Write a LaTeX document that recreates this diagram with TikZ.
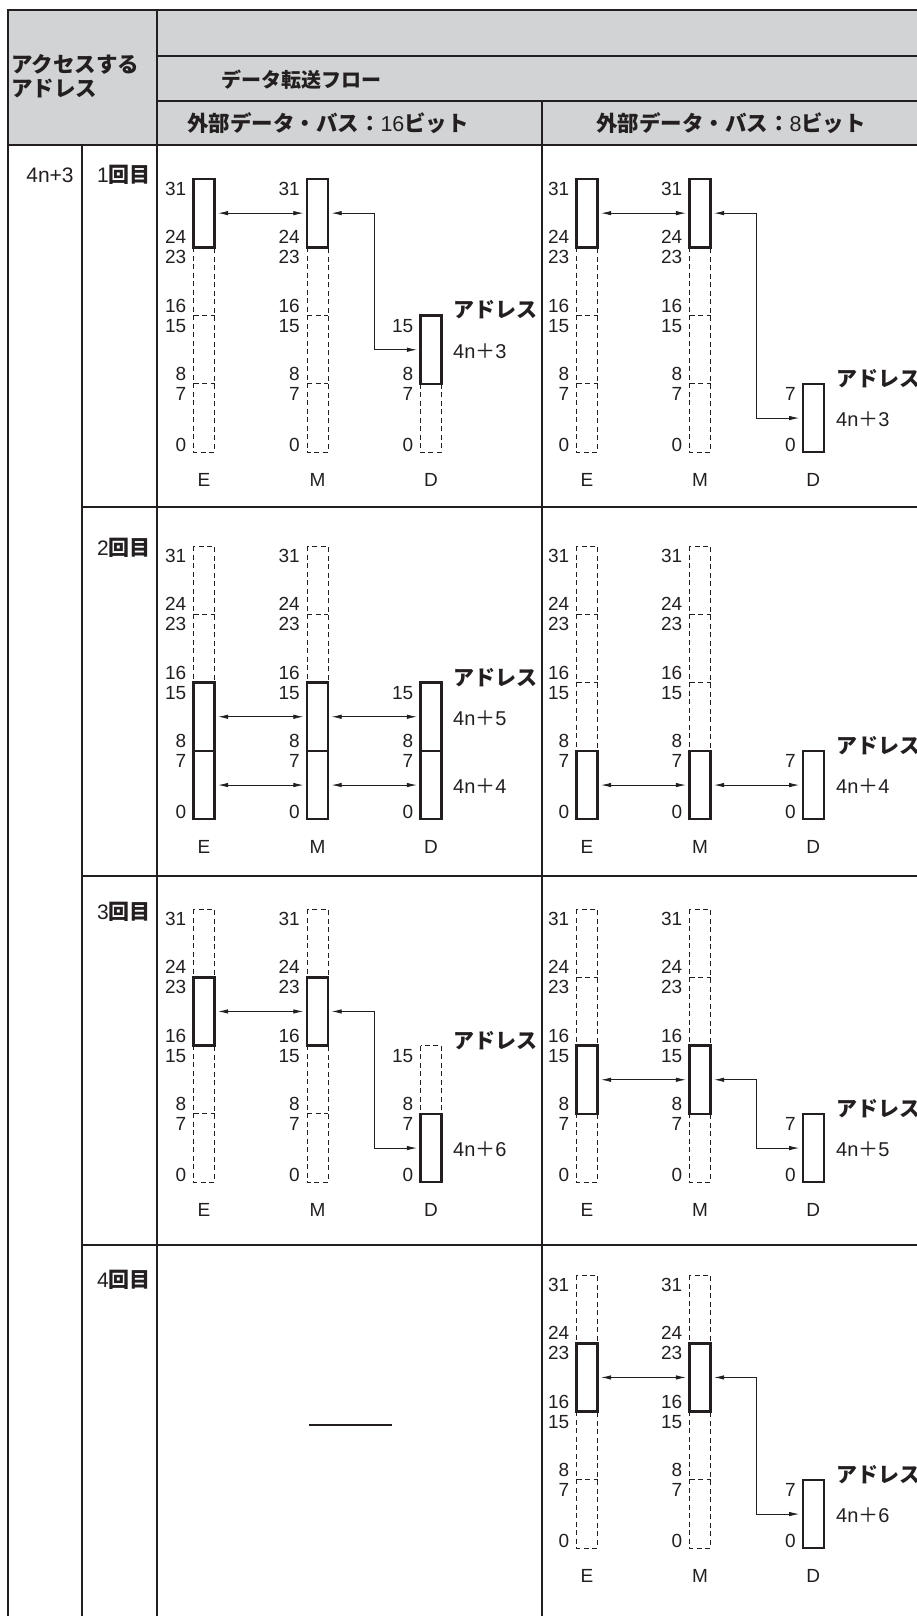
\documentclass[tikz,border=0pt]{standalone}
\usepackage{fontspec}
\setmainfont{Liberation Sans}
\newfontfamily\jp{Noto Sans CJK JP}
\usetikzlibrary{arrows.meta}
\definecolor{hdrgray}{RGB}{209,211,212}
\definecolor{ink}{RGB}{35,31,32}

\begin{document}
\begin{tikzpicture}[x=1pt, y=-1pt, ink,
    frame/.style={line width=2.5pt},
    rule/.style={line width=1.2pt},
    dashreg/.style={line width=0.9pt, dash pattern=on 5pt off 3.5pt},
    byte/.style={draw, line width=2.4pt, fill=white, minimum width=21pt, minimum height=68.3pt, inner sep=0pt},
    link/.style={{Latex[length=10pt,width=4.5pt]}-{Latex[length=10pt,width=4.5pt]}, line width=0.8pt, shorten <=2.5pt, shorten >=2.5pt},
    bitno/.style={font=\fontsize{19}{19}\selectfont, inner sep=0pt, anchor=east},
    unit/.style={font=\fontsize{19}{19}\selectfont, inner sep=0pt},
    addr/.style={font={\jp\bfseries\fontsize{21}{21}\selectfont}, inner sep=0pt, anchor=west},
    addrval/.style={font=\fontsize{20}{20}\selectfont, inner sep=0pt, anchor=west},
    hdr/.style={font={\jp\bfseries\fontsize{21.5}{24}\selectfont}, inner sep=0pt},
    pass/.style={font=\fontsize{21}{21}\selectfont, inner sep=0pt, anchor=west}]
    \useasboundingbox (0,0) rectangle (917,1616);
    \clip (0,0) rectangle (917,1616);

    % Table frame and header
    \fill[hdrgray] (8,10) rectangle (917,145);
    \draw[rule] (157,56) -- (917,56);
    \draw[rule] (157,101) -- (917,101);
    \draw[rule] (8,145) -- (917,145);
    \draw[rule] (82,145) -- (82,1616);
    \draw[rule] (157,10) -- (157,1616);
    \draw[rule] (542,101) -- (542,1616);
    \foreach \ly in {507,876,1245} \draw[rule] (82,\ly) -- (917,\ly);
    \draw[frame] (8,1616) -- (8,10) -- (917,10);
    \node[hdr, anchor=west, align=left] (acc) at (11,76) {アクセスする\\アドレス};
    \node[hdr, anchor=west, font={\jp\bfseries\fontsize{20}{20}\selectfont}] (flow) at (221,80) {データ転送フロー};
    \node[hdr] (bus16) at (328,123) {外部データ・バス：{\normalfont 16}ビット};
    \node[hdr] (bus8) at (731,123) {外部データ・バス：{\normalfont 8}ビット};

    % Row labels
    \node[pass, anchor=center] (start) at (50,175) {4n+3};
    \foreach \ly/\num [count=\ri] in {175/1, 548/2, 912/3, 1280/4}
        \node[pass] (pass\ri) at (97,\ly) {\num{\jp\bfseries 回目}};

    % 32-bit registers E and M (dashed outline, bit numbers)
    \foreach \px/\ty [count=\ri] in {204/179, 317.5/179, 587/179, 700/179, 204/546, 317.5/546, 587/546, 700/546,
                                     204/909, 317.5/909, 587/909, 700/909, 587/1275, 700/1275} {
        \draw[dashreg] (\px-10.5,\ty) rectangle (\px+10.5,\ty+273.2);
        \foreach \kk in {1,2,3} \draw[dashreg] (\px-10.5,\ty+68.3*\kk) -- (\px+10.5,\ty+68.3*\kk);
        \foreach \v/\dy in {31/10, 24/58.3, 23/78.3, 16/126.6, 15/146.6, 8/194.9, 7/214.9, 0/266.2}
            \node[bitno] (r\ri-\v) at (\px-17.5,\ty+\dy) {\v};
    }
    % D side, 16-bit bus
    \foreach \ty [count=\ri] in {179,546,909} {
        \draw[dashreg] (420.5,\ty+136.6) rectangle (441.5,\ty+273.2);
        \draw[dashreg] (420.5,\ty+204.9) -- (441.5,\ty+204.9);
        \foreach \v/\dy in {15/146.6, 8/194.9, 7/214.9, 0/266.2}
            \node[bitno] (dw\ri-\v) at (413.5,\ty+\dy) {\v};
    }
    % D side, 8-bit bus
    \foreach \ty [count=\ri] in {179,546,909,1275}
        \foreach \v/\dy in {7/214.9, 0/266.2}
            \node[bitno] (db\ri-\v) at (795.8,\ty+\dy) {\v};
    % E / M / D names
    \foreach \ty [count=\rj] in {179,546,909}
        \foreach \px/\nm [count=\ri] in {204/E, 317.5/M, 431/D, 587/E, 700/M, 813.3/D}
            \node[unit] (u\rj-\ri) at (\px,\ty+301) {\nm};
    \foreach \px/\nm [count=\ri] in {587/E, 700/M, 813.3/D}
        \node[unit] (u4-\ri) at (\px,1576) {\nm};

    \coordinate (k16) at (374,0);
    \coordinate (k8) at (756.7,0);

    % 1st transfer
    \node[byte] (e1) at (204,213.15) {};
    \node[byte] (m1) at (317.5,213.15) {};
    \node[byte] (d1) at (431,349.75) {};
    \draw[link] (e1) -- (m1);
    \draw[link] (m1) -- (m1 -| k16) |- (d1);
    \node[addr] (a1) at (453,310) {アドレス};
    \node[addrval] (v1) at (453,351) {4n{\jp ＋}3};
    \node[byte] (e1b) at (587,213.15) {};
    \node[byte] (m1b) at (700,213.15) {};
    \node[byte] (d1b) at (813.3,418.05) {};
    \draw[link] (e1b) -- (m1b);
    \draw[link] (m1b) -- (m1b -| k8) |- (d1b);
    \node[addr] (a1b) at (836,379) {アドレス};
    \node[addrval] (v1b) at (836,419) {4n{\jp ＋}3};

    % 2nd transfer
    \node[byte] (e2h) at (204,716.75) {};
    \node[byte] (e2l) at (204,785.05) {};
    \node[byte] (m2h) at (317.5,716.75) {};
    \node[byte] (m2l) at (317.5,785.05) {};
    \node[byte] (d2h) at (431,716.75) {};
    \node[byte] (d2l) at (431,785.05) {};
    \draw[link] (e2h) -- (m2h);
    \draw[link] (m2h) -- (d2h);
    \draw[link] (e2l) -- (m2l);
    \draw[link] (m2l) -- (d2l);
    \node[addr] (a2) at (453,677.6) {アドレス};
    \node[addrval] (v2h) at (453,718) {4n{\jp ＋}5};
    \node[addrval] (v2l) at (453,786) {4n{\jp ＋}4};
    \node[byte] (e2b) at (587,785.05) {};
    \node[byte] (m2b) at (700,785.05) {};
    \node[byte] (d2b) at (813.3,785.05) {};
    \draw[link] (e2b) -- (m2b);
    \draw[link] (m2b) -- (d2b);
    \node[addr] (a2b) at (836,745.9) {アドレス};
    \node[addrval] (v2b) at (836,786) {4n{\jp ＋}4};

    % 3rd transfer
    \node[byte] (e3) at (204,1011.45) {};
    \node[byte] (m3) at (317.5,1011.45) {};
    \node[byte] (d3) at (431,1148.05) {};
    \draw[link] (e3) -- (m3);
    \draw[link] (m3) -- (m3 -| k16) |- (d3);
    \node[addr] (a3) at (453,1040.6) {アドレス};
    \node[addrval] (v3) at (453,1149) {4n{\jp ＋}6};
    \node[byte] (e3b) at (587,1079.75) {};
    \node[byte] (m3b) at (700,1079.75) {};
    \node[byte] (d3b) at (813.3,1148.05) {};
    \draw[link] (e3b) -- (m3b);
    \draw[link] (m3b) -- (m3b -| k8) |- (d3b);
    \node[addr] (a3b) at (836,1108.9) {アドレス};
    \node[addrval] (v3b) at (836,1149) {4n{\jp ＋}5};

    % 4th transfer (8-bit bus only)
    \draw[rule] (309,1425) -- (392,1425);
    \node[byte] (e4b) at (587,1377.45) {};
    \node[byte] (m4b) at (700,1377.45) {};
    \node[byte] (d4b) at (813.3,1514.05) {};
    \draw[link] (e4b) -- (m4b);
    \draw[link] (m4b) -- (m4b -| k8) |- (d4b);
    \node[addr] (a4b) at (836,1474.9) {アドレス};
    \node[addrval] (v4b) at (836,1515) {4n{\jp ＋}6};
\end{tikzpicture}
\end{document}
